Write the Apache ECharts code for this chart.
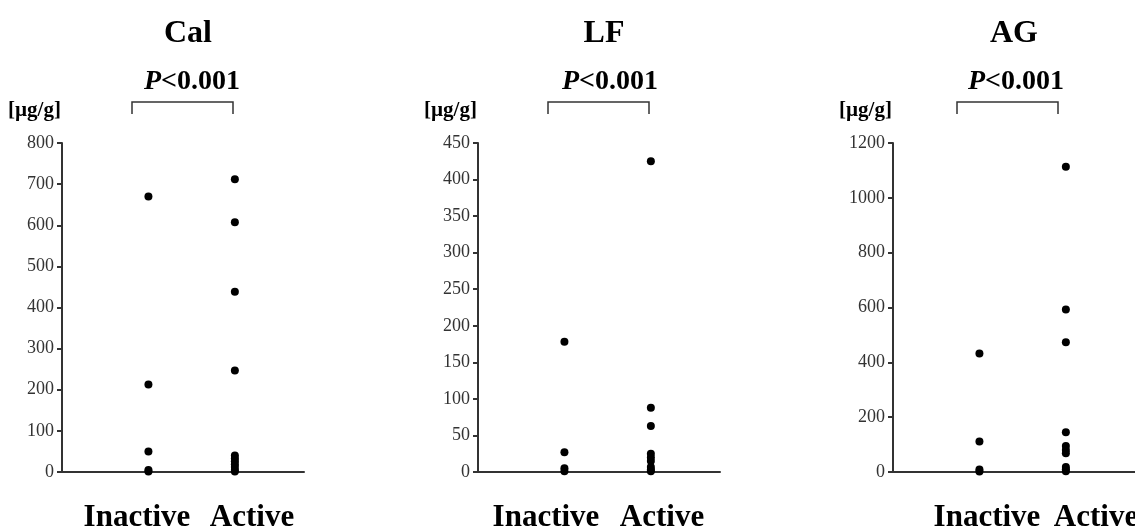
<!DOCTYPE html>
<html>
<head>
<meta charset="utf-8">
<script src="https://cdn.jsdelivr.net/npm/echarts@6/dist/echarts.min.js"></script>
<style>
  html, body { margin: 0; padding: 0; background: #fff; }
  #main { width: 1135px; height: 529px; }
</style>
</head>
<body>
<div id="main"></div>
<script>
// 数据
var panelNames = ['Cal', 'LF', 'AG'];
var categories = ['Inactive', 'Active'];
var pText = 'P<0.001';
var unitText = '[µg/g]';

var calInactive = [670, 213, 50, 5, 1];
var calActive = [712, 607, 438, 247, 40, 33, 26, 19, 12, 5, 1];
var lfInactive = [178, 27, 5, 1];
var lfActive = [425, 88, 63, 25, 20, 15, 7, 3, 1];
var agInactive = [432, 111, 9, 2];
var agActive = [1113, 593, 473, 145, 95, 80, 68, 18, 10, 3];

var yMax = [800, 450, 1200];
var yStep = [100, 50, 200];

(function () {
  var myChart = echarts.init(document.getElementById('main'));
  var font = '"Liberation Serif", "Times New Roman", serif';

  var panelLeft = [62, 478, 893];   // y轴位置
  var titleX = [188, 604, 1014];
  var pX = [192, 610, 1016];
  var bracket = [[132, 233], [548, 649], [957, 1058]];
  var catX = [[137, 252], [546, 662], [987, 1096]];

  var groups = [
    [calInactive, calActive],
    [lfInactive, lfActive],
    [agInactive, agActive]
  ];

  var grids = [], xAxes = [], yAxes = [], series = [], graphic = [];

  for (var i = 0; i < 3; i++) {
    grids.push({ left: panelLeft[i], width: 242, top: 143, bottom: 57 });
    xAxes.push({
      type: 'value', gridIndex: i, min: 0, max: 2.8,
      axisLine: { show: true, onZero: true, lineStyle: { color: '#333', width: 2 } },
      axisTick: { show: false },
      axisLabel: { show: false },
      splitLine: { show: false }
    });
    yAxes.push({
      type: 'value', gridIndex: i, min: 0, max: yMax[i], interval: yStep[i],
      axisLine: { show: true, lineStyle: { color: '#333', width: 2 } },
      axisTick: { show: true, length: 5, lineStyle: { color: '#333', width: 2 } },
      axisLabel: { color: '#333', fontFamily: font, fontSize: 18, margin: 8,
        formatter: function (v) { return String(v); } },
      splitLine: { show: false }
    });
    for (var g = 0; g < 2; g++) {
      series.push({
        type: 'scatter', xAxisIndex: i, yAxisIndex: i,
        name: panelNames[i] + ' ' + categories[g],
        symbol: 'circle', symbolSize: 8,
        itemStyle: { color: '#000', opacity: 1 },
        data: groups[i][g].map(function (v) { return [g + 1, v]; })
      });
    }

    // 标题
    graphic.push({
      type: 'text', x: titleX[i], y: 34,
      style: { text: panelNames[i], align: 'center', verticalAlign: 'middle',
        font: 'bold 32px ' + font, fill: '#000' }
    });
    // P值
    graphic.push({
      type: 'text', x: pX[i], y: 82,
      style: {
        text: '{i|P}{n|<0.001}', align: 'center', verticalAlign: 'middle',
        rich: {
          i: { fontStyle: 'italic', fontWeight: 'bold', fontSize: 28, fontFamily: font, fill: '#000' },
          n: { fontWeight: 'bold', fontSize: 28, fontFamily: font, fill: '#000' }
        }
      }
    });
    // 括号
    graphic.push({
      type: 'polyline',
      shape: { points: [[bracket[i][0], 114], [bracket[i][0], 102], [bracket[i][1], 102], [bracket[i][1], 114]] },
      style: { stroke: '#333', lineWidth: 1.5, fill: null }
    });
    // 单位
    graphic.push({
      type: 'text', x: panelLeft[i] - 54, y: 111,
      style: { text: unitText, verticalAlign: 'middle',
        font: 'bold 21px ' + font, fill: '#000' }
    });
    // 分组标签
    for (var c = 0; c < 2; c++) {
      graphic.push({
        type: 'text', x: catX[i][c], y: 518,
        style: { text: categories[c], align: 'center', verticalAlign: 'middle',
          font: 'bold 31px ' + font, fill: '#000' }
      });
    }
  }

  var option = {
    animation: false,
    backgroundColor: '#fff',
    grid: grids,
    xAxis: xAxes,
    yAxis: yAxes,
    series: series,
    graphic: graphic
  };

  myChart.setOption(option);
  window.addEventListener('resize', function () {
    myChart.resize();
  });
})();
</script>
</body>
</html>
